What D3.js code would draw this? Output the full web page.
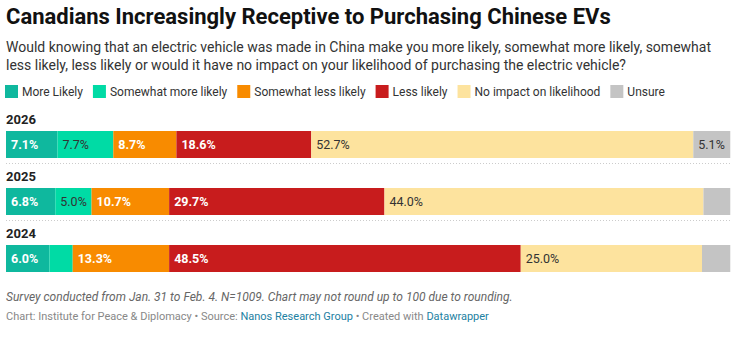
<!DOCTYPE html>
<html>
<head>
<meta charset="utf-8">
<script src="https://cdn.jsdelivr.net/npm/d3@7"></script>
<style>
  body { margin: 0; background: #fff; font-family: Roboto, "Noto Sans", sans-serif; }
  svg text { font-family: Roboto, "Noto Sans", sans-serif; }
</style>
</head>
<body>
<script>
// chart data
var years = ["2026", "2025", "2024"];
var categories = ["More Likely", "Somewhat more likely", "Somewhat less likely", "Less likely", "No impact on likelihood", "Unsure"];
var colors = ["#0fb89e", "#00dba5", "#f88b00", "#c81c1d", "#fde39e", "#c4c4c4"];
var moreLikely = [7.1, 6.8, 6.0];
var somewhatMore = [7.7, 5.0, 3.2];
var somewhatLess = [8.7, 10.7, 13.3];
var lessLikely = [18.6, 29.7, 48.5];
var noImpact = [52.7, 44.0, 25.0];
var unsure = [5.1, 3.7, 3.9];
// dark text only on the light fills
var darkLabel = [false, true, false, false, true, true];

var series = [moreLikely, somewhatMore, somewhatLess, lessLikely, noImpact, unsure];

var width = 742, height = 342;
var svg = d3.select("body").append("svg")
    .attr("width", width)
    .attr("height", height);

// title + subtitle
svg.append("text")
    .attr("x", 6).attr("y", 24)
    .style("font-size", "22px")
    .style("font-weight", "700")
    .style("fill", "#111")
    .text("Canadians Increasingly Receptive to Purchasing Chinese EVs");

var sub = ["Would knowing that an electric vehicle was made in China make you more likely, somewhat more likely, somewhat",
           "less likely, less likely or would it have no impact on your likelihood of purchasing the electric vehicle?"];
svg.selectAll(".sub").data(sub).enter().append("text")
    .attr("class", "sub")
    .attr("x", 6)
    .attr("y", function(d, i) { return 52 + i * 18; })
    .style("font-size", "14px")
    .style("fill", "#333")
    .text(function(d) { return d; });

// legend
var lg = svg.append("g").attr("transform", "translate(5,85)");
var lx = 0;
categories.forEach(function(c, i) {
    var g = lg.append("g").attr("transform", "translate(" + lx + ",0)");
    g.append("rect").attr("width", 13).attr("height", 13).attr("fill", colors[i]);
    var t = g.append("text")
        .attr("x", 17).attr("y", 11)
        .style("font-size", "12px")
        .style("fill", "#333")
        .text(c);
    lx += 17 + t.node().getComputedTextLength() + 10;
});

// bars
var x = d3.scaleLinear().domain([0, 100]).range([6, 731]);
var y = d3.scaleBand().domain(years).range([105, 276]).paddingInner(0);
var barH = 27;

var rows = years.map(function(yr, j) {
    var acc = 0;
    return series.map(function(s, i) {
        var seg = {year: yr, cat: i, v: s[j], x0: acc, x1: acc + s[j]};
        acc += s[j];
        return seg;
    });
});

rows.forEach(function(segs, j) {
    var yr = years[j];
    var top = y(yr);
    svg.append("text")
        .attr("x", 6).attr("y", top + 18.5)
        .style("font-size", "13px")
        .style("font-weight", "700")
        .style("fill", "#222")
        .text(yr);

    var g = svg.append("g").attr("transform", "translate(0," + (top + 26) + ")");
    g.selectAll("rect").data(segs).enter().append("rect")
        .attr("x", function(d) { return x(d.x0); })
        .attr("width", function(d) { return x(d.x1) - x(d.x0); })
        .attr("height", barH)
        .attr("fill", function(d) { return colors[d.cat]; });

    g.selectAll("text").data(segs.filter(function(d) { return x(d.x1) - x(d.x0) > 32; }))
        .enter().append("text")
        .attr("x", function(d) { return x(d.x0) + 5; })
        .attr("y", barH / 2 + 4.5)
        .style("font-size", "12.5px")
        .style("font-weight", function(d) { return darkLabel[d.cat] ? "400" : "700"; })
        .style("fill", function(d) { return darkLabel[d.cat] ? "#333" : "#fff"; })
        .text(function(d) { return d.v.toFixed(1) + "%"; });

    if (j < years.length - 1) {
        svg.append("line")
            .attr("x1", 6).attr("x2", 731)
            .attr("y1", top + 58.5).attr("y2", top + 58.5)
            .attr("stroke", "#ccc")
            .attr("stroke-dasharray", "1,2");
    }
});

// notes
svg.append("text")
    .attr("x", 6).attr("y", 301)
    .style("font-size", "12px")
    .style("font-style", "italic")
    .style("fill", "#666")
    .text("Survey conducted from Jan. 31 to Feb. 4. N=1009. Chart may not round up to 100 due to rounding.");

var src = svg.append("text")
    .attr("x", 6).attr("y", 320)
    .style("font-size", "11px")
    .style("fill", "#888");
src.append("tspan").text("Chart: Institute for Peace & Diplomacy \u2022 Source: ");
src.append("tspan").style("fill", "#1d81a2").text("Nanos Research Group");
src.append("tspan").text(" \u2022 Created with ");
src.append("tspan").style("fill", "#1d81a2").text("Datawrapper");
</script>
</body>
</html>
